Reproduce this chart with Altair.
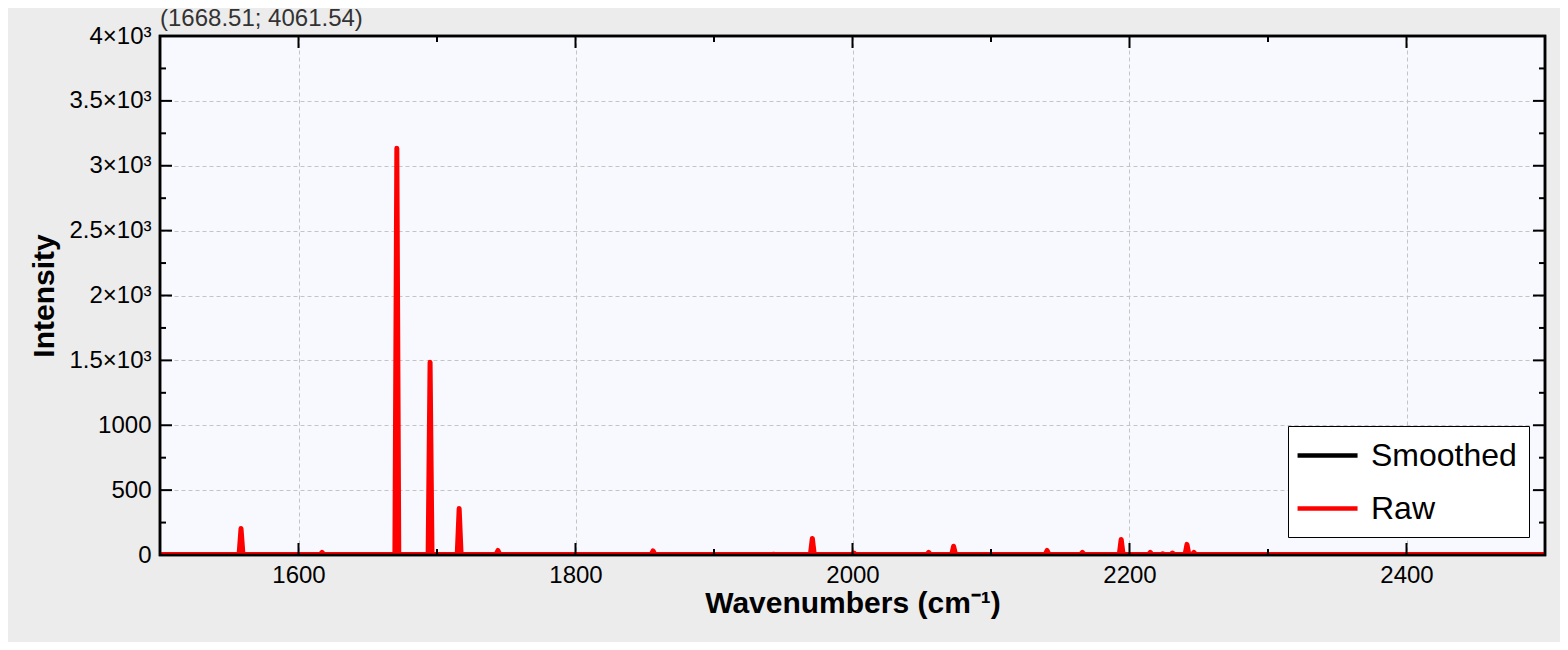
import altair as alt
import pandas as pd

# ---- data ----
x_domain = [1500, 2500]
y_domain = [0, 4000]
peak_centers = [1558.5, 1617, 1671, 1695, 1716, 1744, 1856, 1943, 1971, 2001,
                2038, 2055, 2073, 2109, 2119, 2140.5, 2166, 2194, 2215, 2224,
                2231, 2241.5, 2246.5]
peak_heights = [205, 20, 3135, 1485, 358, 35, 32, 6, 128, 15,
                4, 20, 67, 4, 4, 35, 20, 120, 20, 10,
                15, 82, 20]
baseline = 3
half_width = 1.4

y_major = [0, 500, 1000, 1500, 2000, 2500, 3000, 3500, 4000]
y_minor = [250, 750, 1250, 1750, 2250, 2750, 3250, 3750]
x_major = [1600, 1800, 2000, 2200, 2400]
x_minor = [1500, 1700, 1900, 2100, 2300, 2500]

series_names = ["Smoothed", "Raw"]
series_colors = ["black", "red"]

# ---- build line table ----
wn = [x_domain[0]]
inten = [baseline]
for c, h in zip(peak_centers, peak_heights):
    wn += [c - half_width, c, c + half_width]
    inten += [baseline, h, baseline]
wn.append(x_domain[1])
inten.append(baseline)
df = pd.DataFrame({"wn": wn, "intensity": inten, "series": "Raw"})

W, H = 1385, 519
FONT = "Liberation Sans"

xscale = alt.Scale(domain=x_domain, nice=False, zero=False)
yscale = alt.Scale(domain=y_domain, nice=False)

x_axis = alt.Axis(values=x_major, title="Wavenumbers (cm⁻¹)", format="d",
                  ticks=False, domain=False, grid=True, labelPadding=8,
                  titleBaseline="alphabetic", titleY=57, titleX=W / 2)
y_axis = alt.Axis(values=y_major, title="Intensity", format="d",
                  labelExpr="datum.value >= 1500 ? (datum.value/1000) + '×10³' : datum.label",
                  ticks=False, domain=False, grid=True, labelPadding=9,
                  titleX=-116, titleY=H / 2, titleBaseline="middle", titleAlign="center", titleAngle=270)

line = alt.Chart(df).mark_line(strokeWidth=5, strokeJoin="round", strokeCap="round", clip=True).encode(
    x=alt.X("wn:Q", scale=xscale, axis=x_axis),
    y=alt.Y("intensity:Q", scale=yscale, axis=y_axis),
    color=alt.Color("series:N", scale=alt.Scale(domain=series_names, range=series_colors),
                    legend=alt.Legend(title=None, orient="none", legendX=1128, legendY=390,
                                      fillColor="white", strokeColor="black",
                                      padding=12, rowPadding=19, labelFontSize=32,
                                      labelFont=FONT, labelColor="black",
                                      symbolType="M-1.33,0H2.67", symbolSize=900,
                                      symbolStrokeWidth=4.5, labelOffset=36)),
)

def yticks(vals, x0, x1):
    return alt.Chart(pd.DataFrame({"intensity": vals})).mark_rule(color="black", strokeWidth=2).encode(
        y=alt.Y("intensity:Q", scale=yscale, axis=y_axis), x=alt.value(x0), x2=alt.value(x1))

def xticks(vals, y0, y1):
    return alt.Chart(pd.DataFrame({"wn": vals})).mark_rule(color="black", strokeWidth=2).encode(
        x=alt.X("wn:Q", scale=xscale, axis=x_axis), y=alt.value(y0), y2=alt.value(y1))

# frame drawn above the data (as the reference's axis box)
frame = alt.Chart(pd.DataFrame({"wn": [x_domain[0]]})).mark_rect(
    fill=None, stroke="black", strokeWidth=2.5
).encode(x=alt.value(0), x2=alt.value(W), y=alt.value(0), y2=alt.value(H))

chart = alt.layer(
    line,
    yticks(y_major, 0, 12), yticks(y_minor, 0, 6),
    yticks(y_major, W - 12, W), yticks(y_minor, W - 6, W),
    xticks(x_major, H - 12, H), xticks(x_minor, H - 6, H),
    xticks(x_major, 0, 12), xticks(x_minor, 0, 6),
    frame,
).properties(
    width=W, height=H,
    title=alt.TitleParams("(1668.51; 4061.54)", anchor="start", fontSize=24, fontWeight="normal",
                          color="#333333", font=FONT, offset=4, dy=11, frame="group"),
    autosize=alt.AutoSizeParams(type="none"),
    padding={"left": 152, "top": 28, "right": 15, "bottom": 87},
    background="#ececec",
).configure_view(
    fill="#f8f9fe", stroke="black", strokeWidth=2.5
).configure_axis(
    labelFont=FONT, labelFontSize=24, labelColor="black",
    titleFont=FONT, titleFontSize=30, titleFontWeight="bold", titleColor="black",
    gridColor="#c4c4c4", gridDash=[4, 3], gridWidth=1,
)

chart.save("out.html", embed_options={"renderer": "svg", "actions": False})
